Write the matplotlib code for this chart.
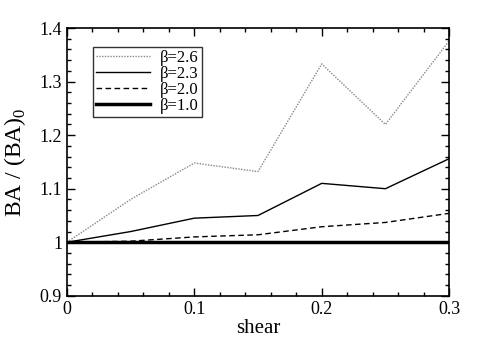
import matplotlib
matplotlib.use("Agg")
import matplotlib.pyplot as plt
from matplotlib.ticker import MultipleLocator

plt.rcParams['font.family'] = ['Liberation Serif', 'DejaVu Serif']
plt.rcParams['mathtext.fontset'] = 'custom'
plt.rcParams['mathtext.rm'] = 'Liberation Serif'

shear = [0, 0.05, 0.1, 0.15, 0.2, 0.25, 0.3]
ba_26 = [1.0, 1.08, 1.148, 1.132, 1.333, 1.22, 1.376]
ba_23 = [1.0, 1.02, 1.045, 1.05, 1.11, 1.10, 1.156]
ba_20 = [1.0, 1.002, 1.01, 1.014, 1.029, 1.037, 1.054]
ba_10 = [1.0, 1.0, 1.0, 1.0, 1.0, 1.0, 1.0]
labels = ["\u03b2=2.6", "\u03b2=2.3", "\u03b2=2.0", "\u03b2=1.0"]
xticks = [0, 0.1, 0.2, 0.3]
xticklabels = ["0", "0.1", "0.2", "0.3"]
yticks = [0.9, 1.0, 1.1, 1.2, 1.3, 1.4]
yticklabels = ["0.9", "1", "1.1", "1.2", "1.3", "1.4"]

fig = plt.figure(figsize=(4.85, 3.46), dpi=100)
ax = fig.add_axes([0.138, 0.145, 0.788, 0.774])

ax.plot(shear, ba_26, color="#888888", ls=(0, (1, 1)), lw=1.0, label=labels[0])
ax.plot(shear, ba_23, "k-", lw=1.0, label=labels[1])
ax.plot(shear, ba_20, "k--", lw=1.0, dashes=(4, 2.5), label=labels[2])
ax.plot(shear, ba_10, "k-", lw=2.5, label=labels[3])

ax.set_xlim(0, 0.3)
ax.set_ylim(0.9, 1.4)
ax.set_xticks(xticks)
ax.set_xticklabels(xticklabels)
ax.set_yticks(yticks)
ax.set_yticklabels(yticklabels)
ax.xaxis.set_minor_locator(MultipleLocator(0.02))
ax.yaxis.set_minor_locator(MultipleLocator(0.02))
ax.tick_params(which="both", direction="in", top=True, right=True, labelsize=13)
ax.tick_params(which="major", length=6, width=1)
ax.tick_params(which="minor", length=3, width=1)
for s in ax.spines.values():
    s.set_linewidth(1.2)

ax.set_xlabel("shear", fontsize=15, labelpad=1)
ax.set_ylabel("BA / (BA)$_0$", fontsize=17, labelpad=8)

leg = ax.legend(loc="upper left", bbox_to_anchor=(0.068, 0.93), fontsize=12,
                frameon=True, fancybox=False, edgecolor="black",
                handlelength=3.2, handletextpad=0.6, borderpad=0.2,
                labelspacing=0.0, borderaxespad=0)
leg.get_frame().set_linewidth(1.0)

plt.savefig("out.png", dpi=100)
